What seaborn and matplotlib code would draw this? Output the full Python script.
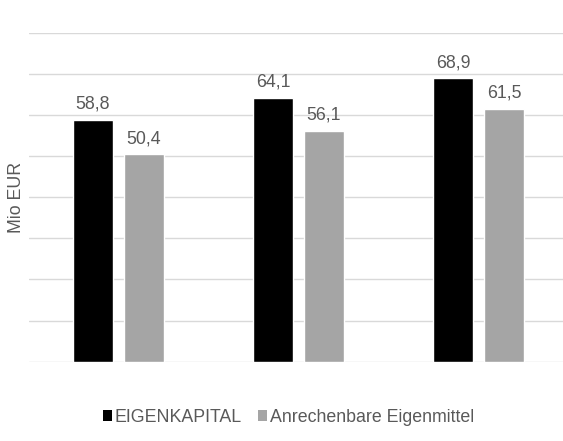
import matplotlib
matplotlib.use('Agg')
import matplotlib.pyplot as plt
from matplotlib.patches import Patch
import seaborn as sns
import pandas as pd

# values (Mio EUR)
gruppen = ['A', 'B', 'C']
eigenkapital = [58.8, 64.1, 68.9]
anrechenbar = [50.4, 56.1, 61.5]
serien = ['EIGENKAPITAL', 'Anrechenbare Eigenmittel']
farben = ['#000000', '#A5A5A5']

df = pd.DataFrame({
    'gruppe': gruppen * 2,
    'wert': eigenkapital + anrechenbar,
    'serie': [serien[0]] * 3 + [serien[1]] * 3,
})

sns.set_style('white')
plt.rcParams['font.family'] = ['Liberation Sans', 'DejaVu Sans']
textfarbe = '#595959'
fs = 12.8

fig = plt.figure(figsize=(5.63, 4.41), dpi=100)
ax = fig.add_axes([0.0515, 0.1798, 0.9485, 0.7461])

sns.barplot(data=df, x='gruppe', y='wert', hue='serie', palette=farben,
            width=0.567, gap=0.215, ax=ax, legend=False, saturation=1)

ax.set_ylim(0, 80)
ax.set_xlim(-0.497, 2.469)
ax.set_yticks(range(0, 81, 10))
ax.grid(axis='y', color='#D9D9D9', linewidth=1)
ax.set_axisbelow(True)
for s in ax.spines.values():
    s.set_visible(False)
ax.tick_params(left=False, bottom=False, labelleft=False, labelbottom=False)
ax.set_xlabel('')
ax.set_ylabel('Mio EUR', color=textfarbe, fontsize=fs, labelpad=3)

for cont in ax.containers:
    for bar in cont:
        h = bar.get_height()
        ax.annotate(f'{h:.1f}'.replace('.', ','),
                    (bar.get_x() + bar.get_width() / 2, h),
                    xytext=(0, 8), textcoords='offset points',
                    ha='center', va='baseline', color=textfarbe, fontsize=fs)

handles = [Patch(facecolor=c, edgecolor='none') for c in farben]
fig.legend(handles, serien, loc='center', bbox_to_anchor=(0.512, 0.054),
           ncol=2, frameon=False, fontsize=fs, labelcolor=textfarbe,
           handlelength=0.55, handleheight=0.55, handletextpad=0.12,
           columnspacing=0.9)

fig.savefig('out.png', dpi=100)
